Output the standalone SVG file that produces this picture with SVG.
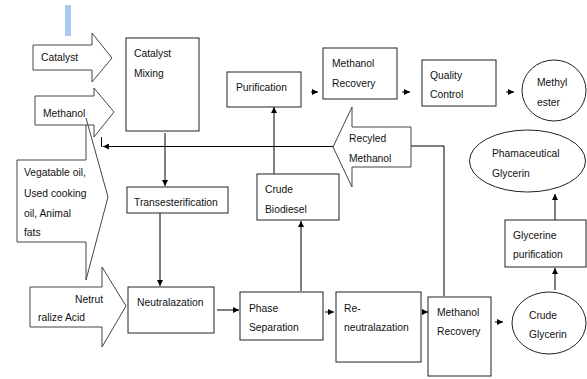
<svg xmlns="http://www.w3.org/2000/svg" width="587" height="379" viewBox="0 0 587 379">
<defs>
<marker id="ah" viewBox="0 0 6 6" refX="6" refY="3" markerWidth="6" markerHeight="6" markerUnits="userSpaceOnUse" orient="auto"><path d="M0,0 L6,3 L0,6 z" fill="#000"/></marker>
<style>
.b{fill:#fff;stroke:#222;stroke-width:1}
.a{fill:#fff;stroke:#444;stroke-width:1}
.o{fill:none;stroke:#444;stroke-width:1}
.c{fill:none;stroke:#000;stroke-width:1}
text{font-family:"Liberation Sans",Arial,sans-serif;font-size:10.3px;fill:#111}
</style>
</defs>
<rect width="587" height="379" fill="#fff"/>
<rect x="65" y="5" width="6" height="31" fill="#a9c9ee"/>

<g id="connectors">
<line class="c" x1="165" y1="133" x2="165" y2="186" marker-end="url(#ah)"/>
<line class="c" x1="160" y1="213" x2="160" y2="286" marker-end="url(#ah)"/>
<line class="c" x1="217" y1="310" x2="239" y2="310" marker-end="url(#ah)"/>
<line class="c" x1="301" y1="291" x2="301" y2="221" marker-end="url(#ah)"/>
<line class="c" x1="274" y1="174" x2="274" y2="107" marker-end="url(#ah)"/>
<line class="c" x1="311" y1="92" x2="318" y2="92" marker-end="url(#ah)"/>
<line class="c" x1="402" y1="92" x2="410" y2="92" marker-end="url(#ah)"/>
<line class="c" x1="506" y1="92" x2="514" y2="92" marker-end="url(#ah)"/>
<line class="c" x1="325" y1="312" x2="334" y2="312" marker-end="url(#ah)"/>
<line class="c" x1="422" y1="312" x2="428" y2="312" marker-end="url(#ah)"/>
<line class="c" x1="495" y1="322" x2="503" y2="322" marker-end="url(#ah)"/>
<line class="c" x1="555" y1="290" x2="555" y2="268" marker-end="url(#ah)"/>
<line class="c" x1="555" y1="220" x2="555" y2="194" marker-end="url(#ah)"/>
<path class="c" d="M444,296 V146 H411"/>
<line class="c" x1="333" y1="146.5" x2="103" y2="146.5" marker-end="url(#ah)"/>
<path class="c" d="M101.5,137 V147"/>
</g>

<g id="catalyst">
<path class="a" d="M33,45 H92 V33 L112,58 L92,82 V70 H33 Z"/>
<text x="41" y="61">Catalyst</text>
</g>
<g id="methanol">
<path class="a" d="M35,96 H94 V88 L114,112 L94,137 V125 H35 Z"/>
<text x="43" y="117">Methanol</text>
</g>
<g id="veg-oil">
<path class="o" d="M86,118 L108,197 L86,280 V242 H17 V160 H86 V125"/>
<text x="24" y="176">Vegatable oil,</text>
<text x="24" y="197">Used cooking</text>
<text x="24" y="217">oil, Animal</text>
<text x="24" y="236">fats</text>
</g>
<g id="neutralize-acid">
<path class="a" d="M30,287 H102 V267 L126,306 L102,347 V327 H30 Z"/>
<text x="75" y="303">Netrut</text>
<text x="38" y="321">ralize Acid</text>
</g>
<g id="recycled-methanol">
<path class="a" d="M333,147 L352,107 V127 H411 V167 H352 V187 Z"/>
<text x="349" y="142">Recyled</text>
<text x="349" y="162">Methanol</text>
</g>

<g id="catalyst-mixing">
<rect class="b" x="126" y="38" width="73" height="93"/>
<text x="134" y="57">Catalyst</text>
<text x="134" y="77">Mixing</text>
</g>
<g id="transesterification">
<rect class="b" x="127" y="187" width="101" height="26"/>
<text x="134" y="206">Transesterification</text>
</g>
<g id="neutralazation">
<rect class="b" x="128" y="287" width="86" height="46"/>
<text x="137" y="306">Neutralazation</text>
</g>
<g id="phase-separation">
<rect class="b" x="240" y="292" width="83" height="48"/>
<text x="249" y="312">Phase</text>
<text x="249" y="331">Separation</text>
</g>
<g id="crude-biodiesel">
<rect class="b" x="257" y="174" width="82" height="46"/>
<text x="265" y="193">Crude</text>
<text x="265" y="213">Biodiesel</text>
</g>
<g id="purification">
<rect class="b" x="227" y="72" width="74" height="35"/>
<text x="236" y="91">Purification</text>
</g>
<g id="methanol-recovery-top">
<rect class="b" x="323" y="48" width="74" height="51"/>
<text x="332" y="67">Methanol</text>
<text x="332" y="87">Recovery</text>
</g>
<g id="quality-control">
<rect class="b" x="422" y="60" width="74" height="46"/>
<text x="430" y="79">Quality</text>
<text x="430" y="98">Control</text>
</g>
<g id="methyl-ester">
<ellipse class="b" cx="554" cy="90.5" rx="32" ry="30.5"/>
<text x="537" y="86">Methyl</text>
<text x="537" y="106">ester</text>
</g>
<g id="pharmaceutical-glycerin">
<ellipse class="b" cx="527.5" cy="161" rx="58" ry="31"/>
<text x="492" y="157">Phamaceutical</text>
<text x="492" y="177">Glycerin</text>
</g>
<g id="glycerine-purification">
<rect class="b" x="505" y="220" width="81" height="47"/>
<text x="513" y="239">Glycerine</text>
<text x="513" y="258">purification</text>
</g>
<g id="re-neutralazation">
<rect class="b" x="336" y="292" width="85" height="70"/>
<text x="344" y="312">Re-</text>
<text x="344" y="331">neutralazation</text>
</g>
<g id="methanol-recovery-bottom">
<rect class="b" x="428" y="297" width="63" height="79"/>
<text x="437" y="316">Methanol</text>
<text x="437" y="335">Recovery</text>
</g>
<g id="crude-glycerin">
<ellipse class="b" cx="549" cy="323" rx="37" ry="31"/>
<text x="529" y="319">Crude</text>
<text x="529" y="338">Glycerin</text>
</g>
</svg>
